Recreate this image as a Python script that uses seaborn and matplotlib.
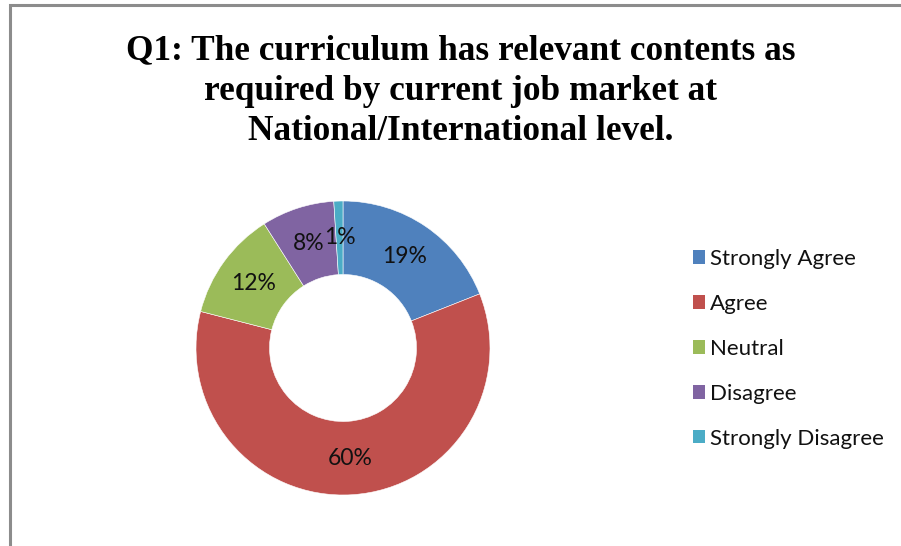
import matplotlib
matplotlib.use("Agg")
import matplotlib.pyplot as plt
import seaborn as sns
import numpy as np
from matplotlib.patches import Rectangle, Patch

# data
categories = ["Strongly Agree", "Agree", "Neutral", "Disagree", "Strongly Disagree"]
percentages = [19, 60, 12, 8, 1]
title_text = ("Q1: The curriculum has relevant contents as\n"
              "required by current job market at\n"
              "National/International level.")

sns.set_theme(style="white")
plt.rcParams['font.family'] = ['Lato', 'DejaVu Sans']

colors = sns.color_palette(["#4F81BD", "#C0504D", "#9BBB59", "#8064A2", "#4BACC6"])

fig = plt.figure(figsize=(9.01, 5.46), dpi=100)

# chart border (gray, cut off at right/bottom)
fig.patches.append(Rectangle((9.5 / 901, -0.1), 1.2, 1 - 4.5 / 546 + 0.1,
                             transform=fig.transFigure, fill=False,
                             edgecolor="#8c8c8c", linewidth=2.2))

fig.text(0.511, 1 - 91 / 546, title_text, ha="center", va="center",
         fontsize=25.4, fontweight="bold", family=["Liberation Serif"],
         linespacing=1.3, color="black")

ax = fig.add_axes([196 / 901, 1 - 495 / 546, 294 / 901, 294 / 546])
wedges, texts = ax.pie(percentages, colors=colors, startangle=90, counterclock=False,
                       radius=1, wedgeprops=dict(width=0.5, edgecolor="white", linewidth=0.4))
ax.set_xlim(-1, 1)
ax.set_ylim(-1, 1)
ax.axis("off")

# percentage labels at the middle of the ring
start = 90.0
total = sum(percentages)
for v in percentages:
    mid = start - v / total * 360 / 2
    r = 0.75
    ax.text(r * np.cos(np.radians(mid)), r * np.sin(np.radians(mid)), f"{v}%",
            ha="center", va="center", fontsize=16.5, color="#111111")
    start -= v / total * 360

handles = [Patch(facecolor=c, edgecolor="none") for c in colors]
fig.legend(handles, categories, loc="upper left", bbox_to_anchor=(673 / 901, 1 - 229 / 546),
           frameon=False, fontsize=16, handlelength=0.55, handleheight=0.55,
           handletextpad=0.2, labelspacing=1.12, labelcolor="#111111")

fig.savefig("out.png", dpi=100)
